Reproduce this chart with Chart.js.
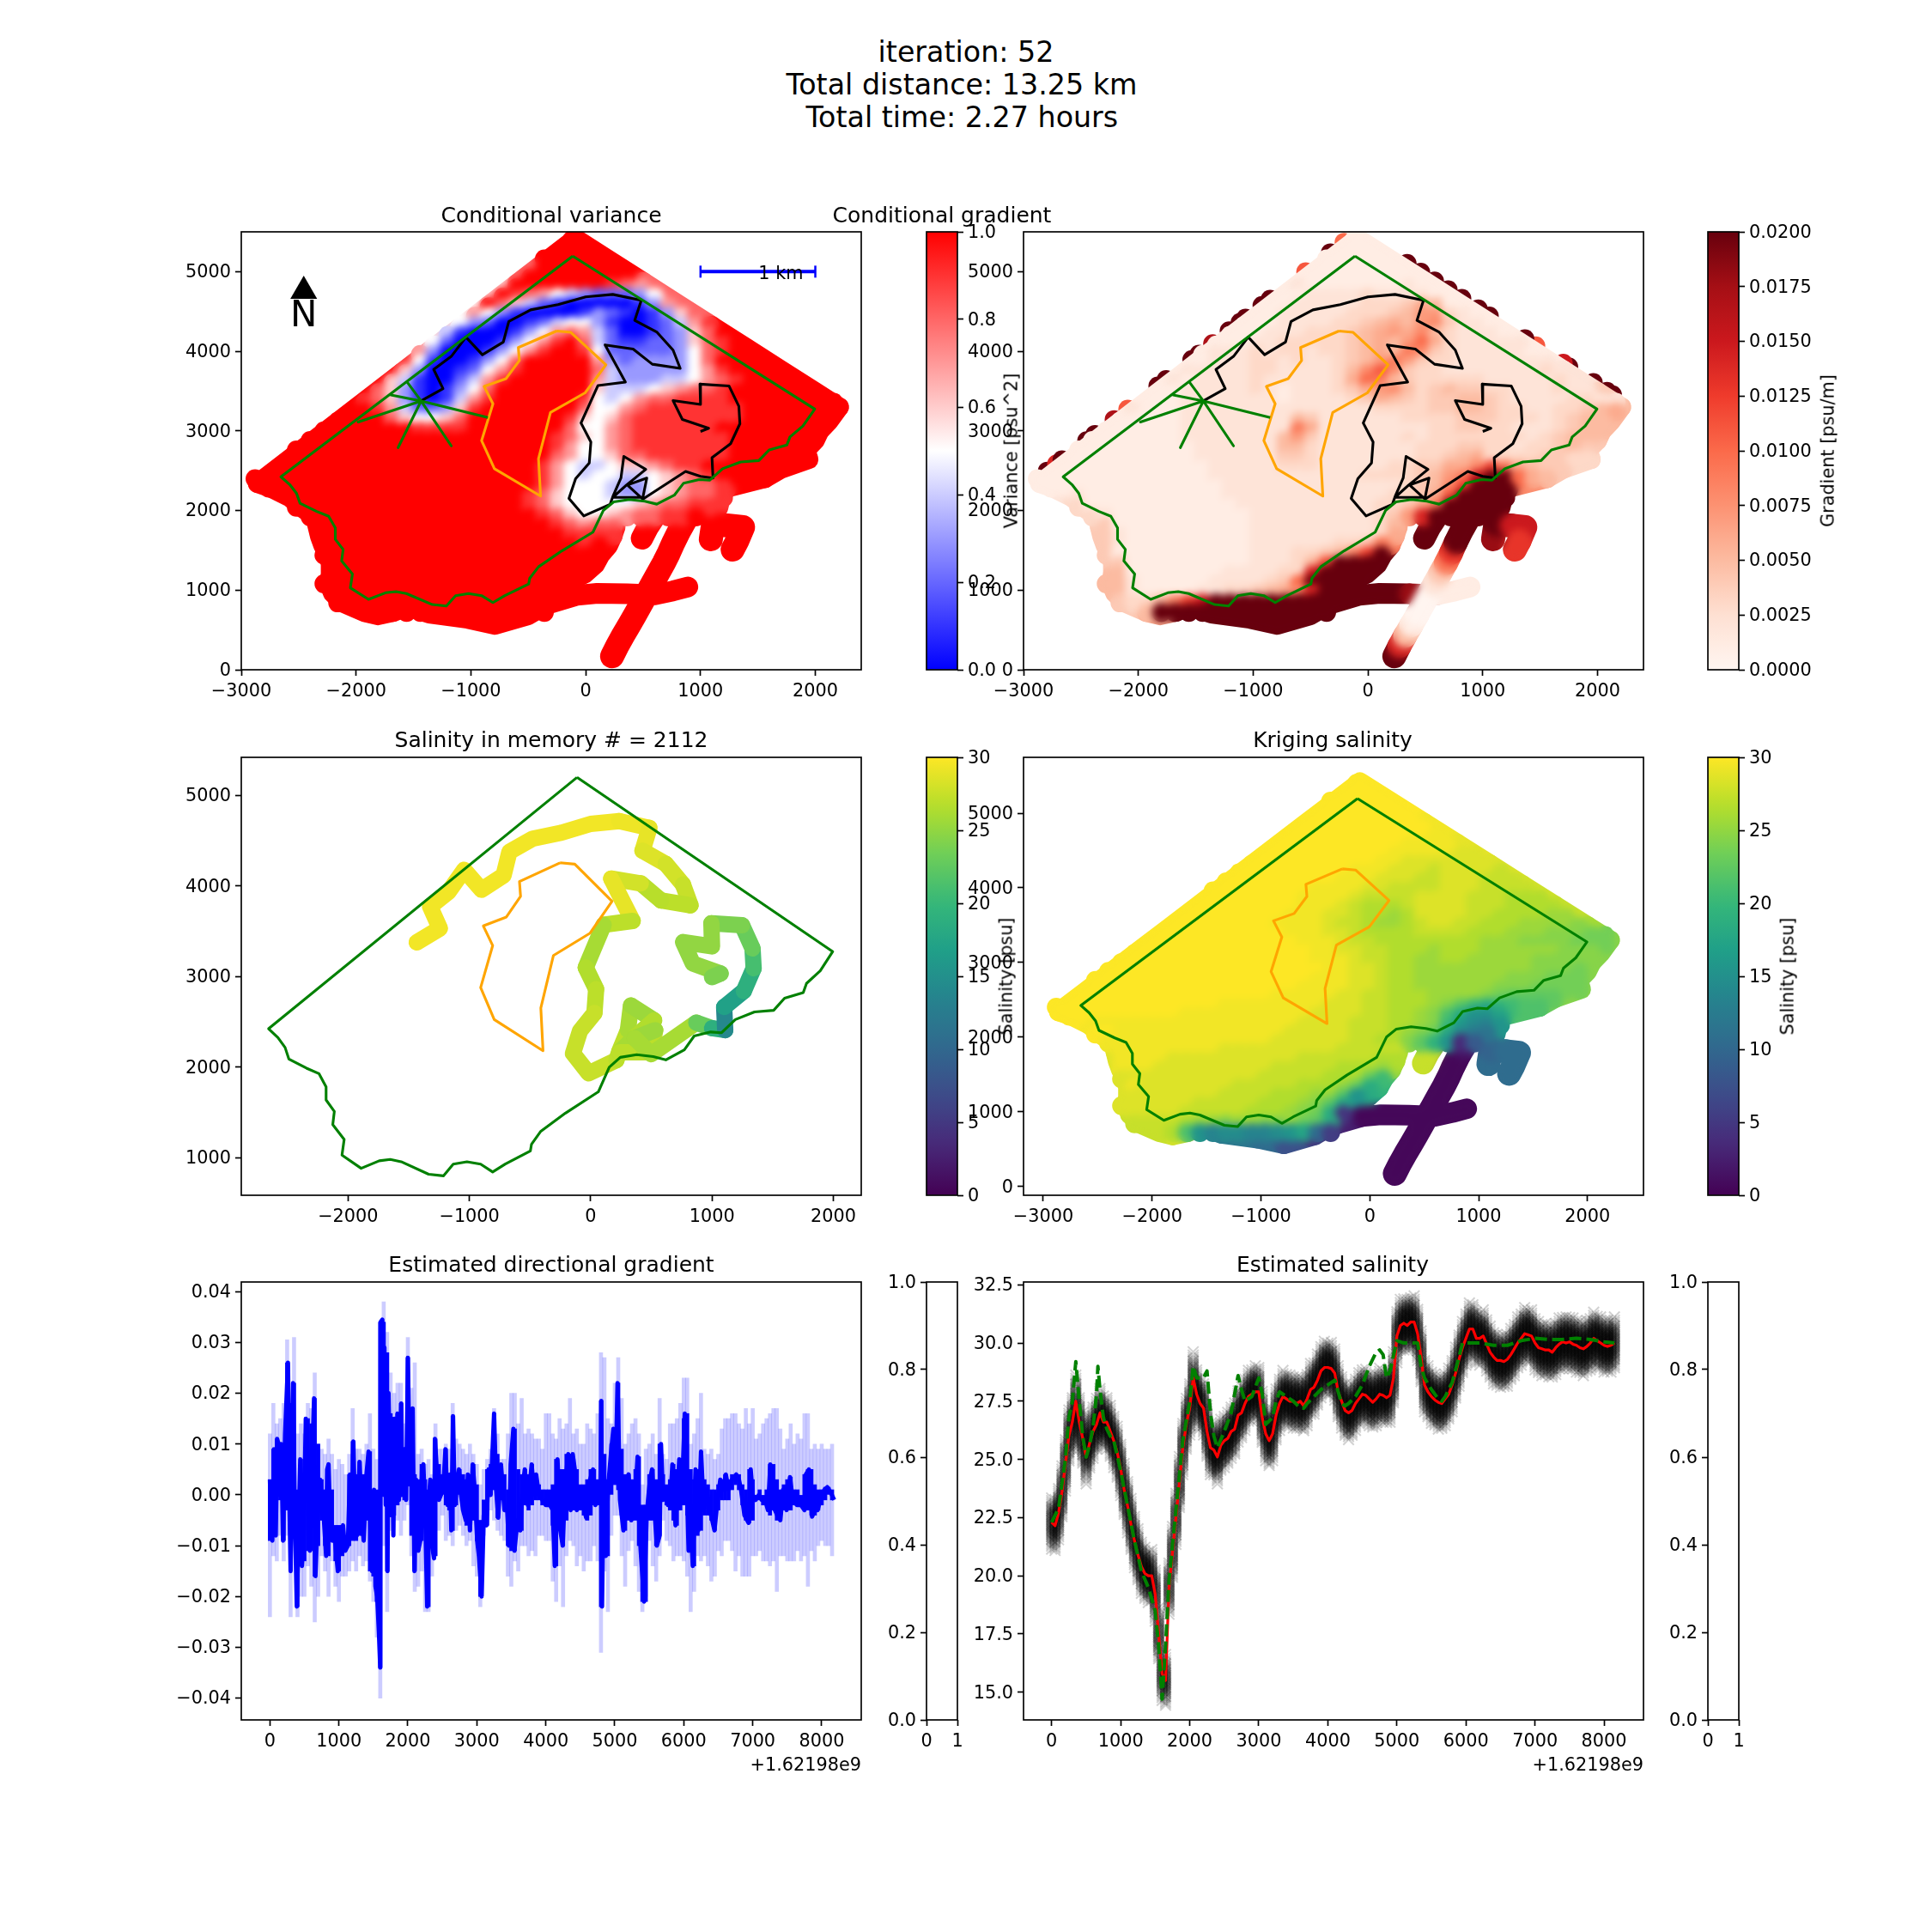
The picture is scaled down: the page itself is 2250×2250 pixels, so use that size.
<!DOCTYPE html>
<html><head><meta charset="utf-8">
<style>
html,body{margin:0;padding:0;background:#fff;width:2250px;height:2250px;overflow:hidden}
canvas{position:absolute}
.t{position:absolute;font-family:'DejaVu Sans';color:#000;white-space:pre;line-height:1}
.rot{transform:translate(-50%,-50%) rotate(-90deg);font-size:20.8px}
.sup{font-size:33.3px;transform:translateX(-50%)}
.ttl{font-size:25px;transform:translate(-50%,-50%)}
</style>
<script src="https://cdn.jsdelivr.net/npm/chart.js@4/dist/chart.umd.js"></script>
</head><body>
<div class="t sup" style="top:44px;left:1125px">iteration: 52</div>
<div class="t sup" style="top:82px;left:1120px">Total distance: 13.25 km</div>
<div class="t sup" style="top:120px;left:1115px"> Total time: 2.27 hours</div>
<script>
// ---------- map: boundary, no-go area, path (metres east / north)
const greenX=[-113,1995,1892,1779,1752,1598,1508,1350,1192,1079,989,853,772,619,515,379,244,153,63,-208,-411,-488,-497,-704,-808,-907,-1020,-1133,-1214,-1336,-1562,-1652,-1743,-1892,-2050,-2032,-2126,-2113,-2181,-2181,-2239,-2343,-2488,-2519,-2578,-2655,-113];
const greenY=[5196,3275,3062,2924,2822,2761,2627,2609,2525,2380,2388,2344,2192,2080,2116,2138,2108,2000,1728,1493,1293,1149,1076,931,844,931,957,931,801,819,957,982,967,884,1029,1203,1366,1511,1638,1783,1928,1989,2090,2217,2326,2424,5196];
const orangeX=[-253,-131,176,-5,-307,-411,-393,-795,-907,-808,-885,-695,-578,-587,-253];
const orangeY=[4254,4239,3830,3478,3232,2652,2181,2525,2877,3341,3558,3656,3884,4047,4254];
const pathX=[-1434,-1243,-1324,-1171,-1043,-900,-718,-670,-479,-241,0,236,484,427,618,761,823,580,413,169,346,107,-41,45,31,-88,-146,-17,212,236,307,332,523,355,236,498,532,363,498,870,1000,1109,1100,1262,1343,1334,1248,995,1000,761,842,1071,1000];
const pathY=[3376,3530,3772,3935,4177,3957,4115,4375,4520,4586,4683,4714,4639,4388,4243,4014,3785,3838,4027,4080,3613,3570,3099,2861,2597,2399,2152,1932,2077,2174,2408,2680,2517,2320,2165,2165,2408,2320,2143,2491,2430,2408,2663,2839,3090,3310,3565,3587,3332,3380,3143,3033,2993];
const pathSalinity=[29.5,29.5,29.5,29.5,29.5,29.5,29.5,29.5,29.5,29.5,29.5,29.3,29,28.5,28,27.5,27,26.8,28,29,27,26,26.5,27,27.5,27.5,27.5,27.5,27,27,26,25.5,26.5,26,27,27,25.5,26,26,23,19,14,17,19,21,23,24,25,25,25,25,24,24];
const starX=[-1434,-1553,-1434,-1696,-1434,-1982,-1434,-1634,-1434,-1171,-1434,-852];
const starY=[3376,3609,3376,3451,3376,3112,3376,2790,3376,2812,3376,3169];
const scaleBarX=[1000,2000], scaleBarY=[5000,5000];
const arrowX=[-2456], arrowY=[4757];
const mapLabels=[['N',-2456,4430,42],['1 km',1700,4970,20.8]];

// ---------- fields on a 120 m grid, one string per row (north to south), '.' = no sample
// variance: tenths (a = 1.0)
const varianceRows=[
"..... ..... ..... ..... ...a.",
"..... ..... ..... ..... ...aa",
"..... ..... ..... ..... .aaaa a....",
"..... ..... ..... ..... .aaaa aa...",
"..... ..... ..... ..... aaaaa aaa..",
"..... ..... ..... ....a aaaaa a987.",
"..... ..... ..... ...a9 87543 22235",
"..... ..... ..... ..a86 42100 00013 7....",
"..... ..... ..... .7531 00001 32101 368..",
"..... ..... ..... 53200 12455 31001 2479.",
"..... ..... ....4 10001 35787 42001 2368a",
"..... ..... ...52 00013 579a8 42112 23689 a....",
"..... ..... ..730 00135 79aa9 52222 23589 aa...",
"..... ..... ..510 01358 aaaaa 73233 3358a aaa..",
"..... ..... .6300 12579 aaaaa 84333 33579 aaaa.",
"..... ..... 64100 2479a aaaaa 74333 44578 9aaaa",
"..... ....8 63101 358aa aaaaa 64445 67889 aaaaa a....",
"..... ...98 63101 479aa aaaa9 54578 89999 aaaaa aaa..",
"..... ..aa9 74223 69aaa aaaa8 55789 99999 9aaaa aaa..",
"..... .aaaa 86556 8aaaa aaa96 56899 99999 9aaaa aa...",
"..... aaaaa aa999 9aaaa aaa85 57899 9999a aaaaa aa...",
"....a aaaaa aaaaa aaaaa aa986 57899 99999 aaaaa a....",
"...aa aaaaa aaaaa aaaaa aa975 57899 99999 aaaaa a....",
"...aa aaaaa aaaaa aaaaa aa875 56889 99999 aaaaa a....",
"..aaa aaaaa aaaaa aaaaa a9754 45667 899aa aaaa.",
"aaaaa aaaaa aaaaa aaaaa a9754 55445 6789a aaa..",
".aaaa aaaaa aaaaa aaaaa a9755 54335 67889",
"...aa aaaaa aaaaa aaaaa 98655 54335 67889",
"...aa aaaaa aaaaa aaaaa 98655 55567 8899.",
"....a aaaaa aaaaa aaaaa a9865 56788 99a..",
"..... aaaaa aaaaa aaaaa aa987 88",
"..... aaaaa aaaaa aaaaa aaa99 99",
"..... aaaaa aaaaa aaaaa aaaa9 a",
"..... aaaaa aaaaa aaaaa aaaaa a",
"..... .aaaa aaaaa aaaaa aaaaa",
"..... .aaaa aaaaa aaaaa aaaa",
"..... aaaaa aaaaa aaaaa aaa",
"..... .aaaa aaaaa aaaaa aaa",
"..... .aaaa aaaaa aaaaa aa",
"..... ...aa aaaaa aaaaa aa"];
// gradient: thousandths of psu/m (k = 0.020)
const gradientRows=[
"..... ..... ..... ..... ...1.",
"..... ..... ..... ..... ...11",
"..... ..... ..... ..... .1111 1....",
"..... ..... ..... ..... .1111 11...",
"..... ..... ..... ..... 11111 111..",
"..... ..... ..... ....2 11111 1121.",
"..... ..... ..... ...11 22223 22221",
"..... ..... ..... ..112 22223 33465 1....",
"..... ..... ..... .1122 22233 34577 321..",
"..... ..... ..... 11122 22334 56578 4221.",
"..... ..... ....1 11222 33345 67685 32221",
"..... ..... ...11 12233 33345 657a6 32222 2....",
"..... ..... ..122 23233 23345 65984 32222 21...",
"..... ..... ..122 23323 22345 79743 32222 222..",
"..... ..... .2222 23322 22358 b8433 22222 2232.",
"..... ..... 21222 23222 2236a 95433 33322 22232",
"..... ....1 12222 23212 22346 78534 54433 22232 2....",
"..... ...11 12222 22212 22234 65434 45543 22223 322..",
"..... ..211 12222 22222 22222 33334 45543 32233 456..",
"..... .1111 12222 22225 42222 22333 34443 33234 55...",
"..... 11111 12222 22229 62222 22223 34433 22234 55...",
"....1 11111 12222 22257 42222 22323 33333 32345 5....",
"...11 11111 11222 22255 32222 22233 34433 23345 4....",
"...11 11111 11222 22244 32222 22233 45633 33443 3....",
"..111 11111 11122 22233 32222 23344 668c9 6544.",
"11111 11111 11122 22222 22223 33345 79fkk a65..",
".1111 11111 11112 22222 22222 22345 8ckkk",
"...21 11111 11112 22222 22222 23346 bkkkk",
"...31 11111 11111 22222 22222 33469 kkkk.",
"....3 21111 11111 12222 22222 347ek kkk..",
"..... 41111 11111 12222 22222 35",
"..... 42111 11111 12222 22222 36",
"..... 42111 11111 12222 22334 9",
"..... 41111 11111 12223 3458c k",
"..... .4111 11111 12223 5bkkk",
"..... .5111 11112 22233 ekkk",
"..... 55211 11122 2234a kkk",
"..... .5211 11223 34568 ekk",
"..... .4335 8cfkk kkkkk kk",
"..... ...5k kkkkk kkkkk kk"];
// kriged salinity: psu in base 36 (u = 30)
const krigingRows=[
"..... ..... ..... ..... ...u.",
"..... ..... ..... ..... ...uu",
"..... ..... ..... ..... .uuuu u....",
"..... ..... ..... ..... .uuuu uu...",
"..... ..... ..... ..... uuuuu uuu..",
"..... ..... ..... ....u uuuuu uuuu.",
"..... ..... ..... ...uu uuuuu uuuut",
"..... ..... ..... ..uuu uuuuu uuttt t....",
"..... ..... ..... .uuuu uuuuu utttt tss..",
"..... ..... ..... uuuuu uuuuu ttsss ssss.",
"..... ..... ....u uuuuu uuutt tsssr ssssr",
"..... ..... ...uu uuuuu uuttt sssrr sssrr r....",
"..... ..... ..uuu uuuuu tttts srrrr sssrr rr...",
"..... ..... ..uuu uuuut tttsr rrrss ssrrr qqq..",
"..... ..... .uuuu uuuut ttsrq qqrss ssrrr qqqq.",
"..... ..... uuuuu uuutt tssrq qpqss ssrrq qqqpp",
"..... ....u uuuuu uuttt tsrrq ppqrs srrqq qpppp o....",
"..... ...uu uuuuu uuutt tssrq qqqrr rrqqq pppoo onn..",
"..... ..uuu uuuuu uuuut ttsrr qqqqq qqqpp poooo nnn..",
"..... .uuuu uuuuu uuuuu ttssr rqqqp qqqpp ppppo oo...",
"..... uuuuu uuuuu uuuuu tttsr rqqpp qqppp ppooo oo...",
"....u uuuuu uuuuu uuuuu uttss rqqpp ppppp ppooo n....",
"...uu uuuuu uuuuu uuuuu tttss rqqpp ppppp ooonn n....",
"...uu uuuuu uuuuu uuuut tttss rqqpp ppppo oonnn n....",
"..uuu uuuuu uuuuu uuttt ttssr rqqqp pppon mmmm.",
"uuuuu uuuuu uuutt ttttt tsssr rqqqp omkij kll..",
".uuuu uuuuu ttttt ttttt ssssr rqqpo liffh",
"...tt ttttt ttttt tttts sssrr rqqpo kgedf",
"...uu ttttt ttttt tttss sssrr rqpon iecb.",
"....t ttttt ttttt ttsss sssrr qqomj f38..",
"..... ttttt tttss sssss ssrrr rr",
"..... tttts sssss ssssr rrrrr qq",
"..... tttss sssss ssrrr rrqqq p",
"..... sssss sssss srrrr rqqqn k",
"..... .tsss ssssr rrrrq qqpni",
"..... .ssss sssrr rrqqq ppmf",
"..... sssss srrrr rqqqp omh",
"..... .ssss rrrrr qqqpo ni4",
"..... .rrrr qppop poopn mi",
"..... ...rq lfdee ddefh a5"];
// outer limits of the sampled area, with values along them (same units as the rows)
const edgeX=[-2860,-2600,-2350,-2100,-1850,-1600,-1350,-1100,-850,-600,-350,-90,200,500,800,1100,1400,1700,2000,2210];
const edgeY=[2340,2629,2907,3185,3463,3741,4019,4297,4575,4853,5131,5420,5153,4876,4599,4323,4046,3770,3493,3300];
const edgeVariance=[10,10,10,10,10,9,6,5,6,8,10,10,10,8,8,10,10,10,10,10];
const edgeGradient=[1,1,1,1,1,1,1,1,1,1,1,1,1,1,1,1,1,2,4,5];
const edgeKriging=[30,30,30,30,30,30,30,30,30,30,30,30,30,29,28.5,28,27.5,27,25.5,24];
const lowX=[-2860,-2740,-2575,-2480,-2360,-2340,-2320,-2290,-2240,-2225,-2225,-2240,-2205,-2120,-1930,-1810,-1672,-1551,-1363,-1028,-790,-504,-265];
const lowY=[2340,2280,2160,2040,1920,1800,1680,1560,1440,1320,1200,1080,960,840,720,678,722,788,700,634,559,678,876];
const lowVariance=[10,10,10,10,10,10,10,10,10,10,10,10,10,10,10,10,10,10,10,10,10,10,10];
const lowGradient=[1,2,3,3,3,4,4,4,4,4,5,5,5,4,6,6,20,20,20,20,20,20,20];
const lowKriging=[30,30,29,29,29,28,28,28,28,28,28,28,27,27,27,28,27,12,11,10,7,4,3];
const bankX=[-265,-180,-10,85,130,200,237,266], bankY=[876,1080,1200,1320,1440,1560,1680,1800];
const bankVariance=[10,10,10,10,10,10,10,10], bankGradient=[20,20,20,20,20,9,6,5], bankKriging=[3,14,17,19,20,25,26,27];
const eastX=[2210,2120,2040,2000,1920,1945,1705,1560,1230,1180,1160], eastY=[3300,3120,3000,2880,2760,2640,2520,2400,2280,2160,2040];
const eastVariance=[10,10,10,10,10,10,10,10,9,9,9], eastGradient=[5,5,5,4,4,3,4,8,20,20,20], eastKriging=[24,24,24,24,24,24,23,21,19,16,13];
// dark rim samples along the straight edges in the gradient map (thousandths)
const rimX=[-208,-327,-542,-852,-923,-1066,-1114,-1209,-1353,-1472,-1534,-1758,-1830,-2092,-2211,-2378,-2450,-2665,-2712,-2793,341,460,580,699,818,961,1057,1367,1462,1701,1749,1963,2082,2130];
const rimY=[5369,5237,4998,4653,4574,4415,4362,4256,4096,3963,3895,3645,3565,3274,3142,2956,2876,2637,2585,2495,5103,4993,4882,4773,4663,4531,4442,4157,4069,3849,3804,3607,3497,3453];
const rimGradient=[10,20,11,20,20,20,20,20,17,20,20,20,20,11,17,20,20,20,14,20,20,20,20,20,20,20,20,20,11,15,20,20,20,20];
// transects leaving the box to the south
const armAX=[230,275,325,378,430,480,530,580,630,680,725,765,810,860,915,1000];
const armAY=[170,300,430,560,690,820,950,1080,1210,1340,1470,1600,1730,1860,2000,2150];
const armAVariance=[10,10,10,10,10,10,10,10,10,10,10,10,10,10,10,10];
const armAGradient=[20,14,5,1,0,0,0,2,4,9,13,20,20,20,20,20];
const armAKriging=[0,0,0,0,0,0,0,0,0,0,0,0,0,1,3,6];
const armDX=[-550,-300,-75,100,360,600,760,890], armDY=[680,840,935,960,955,940,990,1040];
const armDVariance=[10,10,10,10,10,10,10,10], armDGradient=[20,20,20,20,18,1,1,20], armDKriging=[3,2,0,0,0,0,0,1];
const armCX=[590,540,490], armCY=[1900,1790,1650];
const armCVariance=[10,10,10], armCGradient=[20,20,20], armCKriging=[27,27,26];
const armBX=[1090,1110,1250,1370,1320,1280], armBY=[1640,1830,1810,1790,1620,1510];
const armBVariance=[10,10,10,10,10,10], armBGradient=[18,20,15,15,13,10], armBKriging=[10,9,10,10,10,10];

// ---------- estimated directional gradient (1e-3 psu/m)
const gradTime=[0,15,35,60,85,105,125,140,165,190,220,262,285,300,320,336,360,390,410,440,465,490,520,540,580,610,640,660,690,730,770,815,830,850,880,905,930,985,1010,1060,1090,1130,1160,1180,1210,1235,1260,1300,1330,1360,1400,1430,1460,1480,1510,1530,1555,1580,1600,1605,1630,1650,1660,1680,1690,1705,1720,1750,1770,1790,1810,1835,1850,1870,1905,1917,1950,1975,2000,2030,2070,2095,2120,2150,2180,2205,2225,2255,2280,2300,2325,2350,2380,2392,2420,2450,2480,2520,2545,2575,2610,2630,2655,2680,2710,2740,2770,2800,2840,2870,2900,2940,2970,3005,3030,3070,3100,3140,3170,3200,3250,3280,3310,3350,3400,3440,3465,3490,3530,3545,3590,3630,3660,3695,3740,3795,3830,3860,3900,3950,4000,4060,4100,4130,4150,4170,4210,4245,4280,4325,4360,4390,4420,4450,4500,4540,4585,4620,4685,4720,4760,4790,4805,4815,4840,4870,4900,4950,4980,5010,5040,5075,5125,5160,5200,5240,5290,5330,5345,5375,5425,5460,5475,5510,5540,5580,5610,5650,5670,5700,5730,5770,5800,5835,5880,5935,5970,6015,6040,6070,6100,6130,6170,6210,6250,6290,6330,6380,6445,6490,6530,6570,6610,6650,6700,6760,6800,6830,6880,6940,6970,7000,7040,7090,7130,7180,7220,7255,7290,7355,7400,7440,7490,7540,7580,7640,7700,7750,7770,7815,7860,7900,7940,8000,8040,8080,8130,8180];
const gradMean=[3,-4,-9,9,-8,11,10,0,10,-9,12,26,-3,-15,5,22,-3,-22,-10,7,-14,-8,15,13,-11,5,19,-16,-5,3,-2,-12,5,6,-8,-9,-7,-15,-10,-6,-11,-10,4,-8,10.5,-5,-8,6.5,-4,-9,4,8.5,-8,-15,1,-18,-20,-27,-34,34,34.5,0,29,-2,24,-15,20,-4,15,-8,15,1,16,-1,18,0,9,-1,27,2,17,-15,3,-11,-9,5,6,-6,-22,-2,3,-10,-12.5,11,5,-1,0,3,9,-2,4,-7,15.5,-2,2,5,0,-3,-5,4,-7,6,1,-9,-12,-20,-4,-6,5,0,16,1,-4.5,6,-3,-3,-10,6,13,-11,-5,-7,1,5,-2,6,0,4,0,-1,-2,-2,-3,-14,-2,7,-7,-10,2,8,-3,8,5,-3,1,-2,-4.5,2,5,-2,2,-1,18.5,-22,5,-12,1,9,13,3,22,-1,-7,3,4,-5,-2,7.5,-3,-11,-21,-5,-2,3,5,-4,-10,-8,10,-1,1,-2,-2,6,-6,7,-1,16,4,-11,-5,-14,5,-7,8.5,-3,1,-3,-7,-1,3,1,4,1,3,4,3,1,-4,-5.5,5,0,-1,0,-1,-1,-3,6,-2,-4,-5,1,-3,3.5,-1,-2,-2,-3,4,5,-4.3,-3,-3,0,1,1.5,0.5,-1];
const bandTime=[0,50,100,150,200,250,300,350,400,450,500,550,600,650,700,750,800,850,900,950,1000,1050,1100,1150,1200,1250,1300,1350,1400,1450,1500,1550,1600,1650,1700,1750,1800,1850,1900,1950,2000,2050,2100,2150,2200,2250,2300,2350,2400,2450,2500,2550,2600,2650,2700,2750,2800,2850,2900,2950,3000,3050,3100,3150,3200,3250,3300,3350,3400,3450,3500,3550,3600,3650,3700,3750,3800,3850,3900,3950,4000,4050,4100,4150,4200,4250,4300,4350,4400,4450,4500,4550,4600,4650,4700,4750,4800,4850,4900,4950,5000,5050,5100,5150,5200,5250,5300,5350,5400,5450,5500,5550,5600,5650,5700,5750,5800,5850,5900,5950,6000,6050,6100,6150,6200,6250,6300,6350,6400,6450,6500,6550,6600,6650,6700,6750,6800,6850,6900,6950,7000,7050,7100,7150,7200,7250,7300,7350,7400,7450,7500,7550,7600,7650,7700,7750,7800,7850,7900,7950,8000,8050,8100,8150];
const bandHigh=[12,18,14,15,18,30.5,15,31,12,14,12,18,17,24,10,9,8,11,8,5,7,6,4,8,17,9,9,8,10,16,9,7,0,38,32,24,20,22,22,14,31,21,26,8,9,6,7,4,14,9,9,10,9,18,11,10,9,8,10,8,6,2,5,7,9,17,12,7,7,12,20,20,14,19,12,13,12,11,11,9,16,16,12,11,15,13,14,19,12,13,10,10,14,13,12,16,28,27,15,14,22,27,19,10,12,14,15,12,2,9,10,12,8,19,8,7,14,14,15,18,23,23,10,12,15,20,9,8,9,7,8,13,15,15,16,16,14,13,17,14,17,11,12,14,15,16,17,17,13,9,11,14,10,12,11,16,16,9,10,9,10,9,9,10];
const bandLow=[-24,-12,-13,-8,-13,-8,-24,-6,-24,-20,-20,-14,-18,-25,-20,-12,-15,-20,-13,-18,-21,-16,-16,-15,-13,-15,-12,-14,-13,-17,-21,-28,-40,-10,-23,-7,-3,-5,-8,-5,-2,-12,-19,-18,-15,-23,-23,-16,-12,-7,-4,-9,-8,-10,-7,-6,-8,-10,-9,-14,-16,-22,-8,-4,-3,-5,-7,-8,-9,-16,-18,-13,-15,-10,-10,-12,-11,-12,-8,-8,-9,-9,-17,-21,-14,-22,-12,-9,-10,-14,-12,-15,-13,-13,-10,-13,-31,-15,-23,-8,-4,-4,-12,-18,-11,-9,-14,-19,-23,-20,-9,-14,-17,-12,-5,-9,-10,-13,-12,-12,-13,-16,-23,-19,-12,-13,-12,-14,-17,-16,-11,-12,-9,-9,-11,-15,-12,-16,-16,-16,-12,-12,-11,-13,-13,-14,-13,-19,-12,-12,-13,-13,-13,-11,-13,-12,-18,-11,-13,-10,-9,-10,-10,-12];
// range covered by the estimate itself within each 50 s
const coreHigh=[3,9,11,10,9,26,18,22,1,7,1,15,14,19,10,3,1,6,1,-6,-6,-6,-8,4,10.5,4,6.5,4,3,8.5,1,1,34,34,28,16,15,16,18,9,27,17,4,3,6,3,1,3,11,6,4,9,4,15.5,4,5,4,3,4,6,2,-5,-1,5,6,16,8,6,4,1,7,13,5,4,5,4,6,4,2,1,1,1,2,7,5,5,8,8,7,5,2,2,3,5,5,3,18.5,8,3,10,13,22,9,4,4,3,5,7.5,-2,-2,4,5,3,10,4,2,3,6,5,7,15,16,5,3,5,8.5,3,2,1,1,2,3,4,3,4,4,4,2,1,5,3,0,1,0,1,6,6,3,1,2,3,3.5,1,1,0,4,5,5,2,1,1,1.5,1.5,1];
const coreLow=[-9,-8,0,-1,-9,-3,-15,-3,-22,-14,-13,-11,-11,-16,-10,-5,-10,-12,-8,-13,-15,-12,-11,-10,-9,-9,-8,-8,-5,-15,-16,-21,-34,0,-15,-4,-4,-2,0,-1,2,-8,-15,-11,-9,-6,-22,-10,-12,-1,0,-2,-3,-7,-2,0,-3,-6,-7,-5,-9,-20,-6,-6,0,1,-4.5,-1,-3,-10,-11,-11,-7,-7,-2,-3,-2,-1,-1,-2,-2,-2,-6,-14,-7,-10,-5,-3,-3,-3,-3,-4,-5,-4,-2,-2,-22,-12,-12,0,2,1,-4,-7,-5,-5,-5,-10,-21,-21,-5,-5,-10,-8,-1,-2,-3,-5,-6,-3,-2,-4,-11,-14,-8,-7,-4,-4,-5,-7,-3,-1,-1,-1,1,2,1,-2,-5,-5.5,-5,-1,-1,-2,-2,-4,-3,-5,-4,-3,-3,-3,-2,-2,-2,-3,-3,-4,-4,-3,-2,-1,0,-1];

// ---------- estimated salinity (psu), sampled every 50 s
const salTime=bandTime;
const salEstimate=[22.3,22.15,22.7,23.6,24.8,26,26.6,27.5,26.6,25.9,25.1,25.7,26.2,26.5,27,26.6,26.6,26.2,25.8,25.3,24.6,23.7,23,22.2,21.5,20.9,20.4,20.1,20,20,19.2,17.5,15.8,15.5,19.5,21,22.5,24,25.5,26.5,27.2,28.5,27.8,27.4,27.2,26.2,25.5,25.4,25.1,25.6,25.8,25.9,26.2,26.3,26.9,27,27.4,27.7,27.8,27.9,27.9,26.8,26.1,25.8,26.1,26.9,27.4,27.7,27.6,27.5,27.5,27.4,27.5,27.3,27.6,28,28.1,28.4,28.8,28.95,28.95,28.9,28.7,27.9,27.5,27.1,27,27.1,27.4,27.6,27.8,27.75,27.6,27.45,27.6,27.8,27.75,27.65,27.75,28.5,30.3,30.75,30.85,30.75,30.9,30.9,30.4,29.4,28.2,27.9,27.7,27.55,27.45,27.4,27.6,27.8,28.2,28.7,29.3,29.8,30.2,30.6,30.6,30.2,30.2,30.3,29.95,29.6,29.4,29.25,29.25,29.2,29.3,29.5,29.75,30,30.2,30.4,30.35,30.3,30,29.8,29.75,29.7,29.7,29.6,29.8,29.95,30.05,30,30.05,29.95,29.9,29.8,29.75,29.85,30,30.2,30.1,30,29.9,29.85,29.9,30];
const salTrueTime=[0,100,200,250,300,350,400,450,500,550,600,650,670,700,750,800,850,900,1000,1100,1200,1300,1400,1500,1550,1600,1650,1700,1800,1900,2000,2050,2100,2200,2250,2300,2350,2400,2500,2600,2650,2700,2750,2800,2900,3000,3050,3100,3200,3250,3300,3400,3500,3600,3650,3700,3800,3900,4000,4100,4150,4200,4250,4300,4400,4500,4600,4700,4750,4800,4850,4900,5000,5100,5200,5300,5350,5400,5500,5600,5650,5700,5800,5900,5950,6000,6200,6400,6600,6800,7000,7200,7400,7600,7800,8000,8150];
const salTrue=[22.3,22.9,25,26.8,27.5,29.2,27.5,26,25.1,25.6,26.4,27.8,29,28,26.8,26.3,26,25.8,24.5,23,21.5,20.2,19.5,18.5,17,14.7,17,19.8,22.8,25.8,27.5,29,28.5,28.5,28.8,27,26,25.5,26.2,27,27.8,28.6,28,27.5,27.7,28.5,27.8,26.5,26.8,27.5,27.9,27.7,27.5,27.2,27.2,27.4,27.7,28,28.2,28.4,27.9,27.4,27.3,27.4,27.7,28.2,29,29.6,29.7,29.5,28.5,28.8,30.1,30,30,30,29,28.5,28,27.6,27.5,27.7,28.3,29.4,30,30,30,29.9,29.9,30.1,30.2,30.15,30.15,30.2,30.15,30.05,30];
// ensemble members around the estimate, as read from the width of the cloud
const memberCoreA=[-0.72,-0.63,-0.55,-0.49,-0.42,-0.37,-0.3,-0.26,-0.19,-0.14,-0.08,-0.03,0.04,0.09,0.16,0.21,0.27,0.33,0.39,0.46,0.52,0.59,0.67];
const memberCoreB=[-0.68,-0.58,-0.51,-0.45,-0.39,-0.33,-0.28,-0.22,-0.16,-0.11,-0.05,0.01,0.06,0.13,0.18,0.24,0.3,0.36,0.43,0.49,0.55,0.63,0.72];
const memberFringeA=[-1.15,-1.02,-0.94,-0.86,-0.78,0.76,0.84,0.93,1.04];
const memberFringeB=[-1.06,-0.97,-0.9,-0.81,-0.74,0.79,0.88,0.98,1.12];

// ---------- tick labels
const ticksTopX=[-3000,-2000,-1000,0,1000,2000], ticksTopY=[0,1000,2000,3000,4000,5000];
const ticksMemX=[-2000,-1000,0,1000,2000], ticksMemY=[1000,2000,3000,4000,5000];
const ticksTime=[0,1000,2000,3000,4000,5000,6000,7000,8000];
const ticksGrad=[-40,-30,-20,-10,0,10,20,30,40];
const ticksSal=[15,17.5,20,22.5,25,27.5,30,32.5];
const ticksVar=[0,0.2,0.4,0.6,0.8,1], ticksGradCb=[0,0.0025,0.005,0.0075,0.01,0.0125,0.015,0.0175,0.02], ticksSalCb=[0,5,10,15,20,25,30], ticksUnit=[0,0.2,0.4,0.6,0.8,1], ticksUnitX=[0,1];

// ---------- colour maps
const mapBwr=['#0000ff','#ffffff','#ff0000'];
const mapReds=['#fff5f0','#fee0d2','#fcbba1','#fc9272','#fb6a4a','#ef3b2c','#cb181d','#a50f15','#67000d'];
const mapViridis=['#440154','#482878','#3e4989','#31688e','#26828e','#1f9e89','#35b779','#6ece58','#b5de2b','#fde725'];
function hex(h){return [1,3,5].map(i=>parseInt(h.substr(i,2),16));}
function colour(map,t){t=Math.max(0,Math.min(1,t));const p=t*(map.length-1),i=Math.min(Math.floor(p),map.length-2),f=p-i,a=hex(map[i]),b=hex(map[i+1]);
  return 'rgb('+a.map((v,k)=>Math.round(v+(b[k]-v)*f)).join(',')+')';}

// ---------- field decoding
const GX0=-2880,GDX=120,GY0=5400,GDY=120;
function field(rows,toVal,map){const pts=[],cols=[];rows.forEach((row,r)=>{row.replace(/ /g,'').split('').forEach((ch,c)=>{if(ch==='.')return;
  pts.push({x:GX0+GDX*c,y:GY0-GDY*r});cols.push(colour(map,toVal(parseInt(ch,36))));});});return {pts,cols};}
const xy=(X,Y)=>X.map((x,i)=>({x,y:Y[i]}));

// ---------- layout helpers
const FONT='DejaVu Sans',FS=20.8,BLACK='#000',YW=100;
const minus=s=>String(s).replace('-','\u2212');
const fmt0=v=>minus(v), fmtN=n=>v=>minus(Number(v).toFixed(n));
function axis(min,max,list,fmt,pos,size,extra){const horiz=pos==='bottom';const o={type:'linear',position:pos,min,max,bounds:'ticks',offset:false,
  grid:{display:true,offset:false,drawOnChartArea:false,drawTicks:true,tickLength:7,tickWidth:1.7,tickColor:BLACK},border:{display:false},
  ticks:{autoSkip:false,maxRotation:0,minRotation:0,padding:horiz?6:5,labelOffset:horiz?0:1.5,color:BLACK,font:{family:FONT,size:FS},callback:fmt},
  afterBuildTicks:s=>{s.ticks=list.map(value=>({value}));},
  afterFit:s=>{if(horiz)s.height=size;else s.width=size;}};
  return Object.assign(o,extra||{});}
const framePlugin={id:'frame',afterDraw(c){const a=c.chartArea,x=c.ctx;x.save();x.strokeStyle=BLACK;x.lineWidth=1.67;x.strokeRect(a.left,a.top,a.right-a.left,a.bottom-a.top);x.restore();}};
const labelPlugin={id:'maplabels',afterDatasetsDraw(c,args,opts){if(!opts.items)return;const x=c.ctx;x.save();x.fillStyle=BLACK;x.textAlign='center';x.textBaseline='middle';
  opts.items.forEach(([t,dx,dy,s])=>{x.font=s+'px "'+FONT+'"';x.fillText(t,c.scales.x.getPixelForValue(dx),c.scales.y.getPixelForValue(dy));});x.restore();}};
// soft rendering of the gridded samples, and samples painted beneath what is already drawn
const layerPlugin={id:'layers',
  beforeDatasetDraw(c,args){const d=c.data.datasets[args.index];if(d.under)c.ctx.globalCompositeOperation='destination-over';},
  afterDatasetDraw(c,args){const d=c.data.datasets[args.index],x=c.ctx,a=c.chartArea;
    if(d.under)x.globalCompositeOperation='source-over';
    if(d.smooth){x.save();x.beginPath();x.rect(a.left,a.top,a.right-a.left,a.bottom-a.top);x.clip();x.globalCompositeOperation='source-atop';x.filter='blur('+d.smooth+'px)';x.drawImage(c.canvas,0,0);x.restore();}}};
function chart(box,cfg){const mh=box.mh||110,mt=60,mb=90,xh=cfg.xh||0;
  const cv=document.createElement('canvas');cv.width=Math.round(box.r-box.l+2*mh);cv.height=Math.round(box.b-box.t+mt+mb);
  cv.style.left=(box.l-mh)+'px';cv.style.top=(box.t-mt)+'px';document.body.appendChild(cv);
  const right=cfg.yRight;
  return new Chart(cv,{type:cfg.type||'scatter',data:cfg.data,plugins:[framePlugin,labelPlugin,layerPlugin],options:{responsive:false,animation:false,devicePixelRatio:1,events:[],
    layout:{padding:{left:right?mh:mh-YW,right:right?mh-YW:mh,top:mt,bottom:mb-xh}},
    scales:cfg.scales,
    plugins:{legend:{display:false},tooltip:{enabled:false},maplabels:{items:cfg.labels},title:{display:false}}}});}
const line=(d,color,w,extra)=>Object.assign({type:'line',data:d,borderColor:color,borderWidth:w,pointRadius:0,tension:0,fill:false,clip:0,borderJoinStyle:'round'},extra||{});
const discs=f=>({type:'scatter',data:f.pts,pointRadius:11,pointBorderWidth:0,pointBackgroundColor:f.cols,pointBorderColor:f.cols,showLine:false,clip:0,smooth:4.5});
const strip=(X,Y,vals,map,w)=>line(xy(X,Y),colour(map,vals[0]),w,{borderCapStyle:'round',segment:{borderColor:c=>colour(map,vals[c.p0DataIndex])}});
function sampled(rows,toVal,map,v){const s=a=>a.map(toVal);return [discs(field(rows,toVal,map)),
  strip(armAX,armAY,s(v.a),map,28),strip(armDX,armDY,s(v.d),map,24),strip(armCX,armCY,s(v.c),map,26),strip(armBX,armBY,s(v.b),map,28),
  strip(lowX,lowY,s(v.low),map,22),strip(bankX,bankY,s(v.bank),map,22),strip(eastX,eastY,s(v.east),map,22),strip(edgeX,edgeY,s(v.edge),map,22)];}
function colourbar(box,lo,hi,map,list,fmt){
  chart(Object.assign({mh:170},box),{type:'bar',yRight:true,
    data:{labels:['c'],datasets:[{data:[[lo,hi]],categoryPercentage:1,barPercentage:1,borderWidth:0,backgroundColor(ctx){const a=ctx.chart.chartArea;if(!a)return '#888';
      const g=ctx.chart.ctx.createLinearGradient(0,a.bottom,0,a.top);for(let i=0;i<=32;i++)g.addColorStop(i/32,colour(map,i/32));return g;}}]},
    scales:{x:{type:'category',display:false},y:axis(lo,hi,list,fmt,'right',YW)}});}
function emptyAxis(box){chart(Object.assign({mh:170},box),{xh:60,data:{datasets:[]},
    scales:{x:axis(0,1,ticksUnitX,fmt0,'bottom',60),y:axis(0,1,ticksUnit,fmtN(1),'left',YW)}});}

// ---------- geometry of the panels (px)
const colA={l:281,r:1003},cbA={l:1079,r:1115},colB={l:1191.5,r:1913},cbB={l:1989,r:2025};
const row1={t:270,b:780},row2={t:881.5,b:1391.5},row3={t:1492.5,b:2002.5};
const green=xy(greenX,greenY),orange=xy(orangeX,orangeY),path=xy(pathX,pathY),star=xy(starX,starY);

// Conditional variance
chart({...colA,...row1},{xh:60,labels:mapLabels,
  data:{datasets:[
    line(xy(scaleBarX,scaleBarY),'#0000ff',4,{pointRadius:7,pointStyle:'line',pointRotation:90,pointBorderColor:'#0000ff',pointBorderWidth:2.5}),
    {type:'scatter',data:xy(arrowX,arrowY),pointStyle:'triangle',pointRadius:18,pointBackgroundColor:BLACK,pointBorderColor:BLACK,pointBorderWidth:0,clip:0},
    line(green,'#008000',3.1),line(star,'#008000',3.1),line(orange,'#ffa500',3.1),line(path,BLACK,3.1),
    ...sampled(varianceRows,v=>v/10,mapBwr,{a:armAVariance,d:armDVariance,c:armCVariance,b:armBVariance,low:lowVariance,bank:bankVariance,east:eastVariance,edge:edgeVariance})]},
  scales:{x:axis(-3000,2400,ticksTopX,fmt0,'bottom',60),y:axis(0,5500,ticksTopY,fmt0,'left',YW)}});
colourbar({...cbA,...row1},0,1,mapBwr,ticksVar,fmtN(1));

// Gradient
chart({...colB,...row1},{xh:60,
  data:{datasets:[line(green,'#008000',3.1),line(star,'#008000',3.1),line(orange,'#ffa500',3.1),line(path,BLACK,3.1),
    {type:'scatter',data:xy(rimX,rimY),pointRadius:11,pointBorderWidth:0,pointBackgroundColor:rimGradient.map(v=>colour(mapReds,v/20)),showLine:false,clip:0,under:true},
    ...sampled(gradientRows,v=>v/20,mapReds,{a:armAGradient,d:armDGradient,c:armCGradient,b:armBGradient,low:lowGradient,bank:bankGradient,east:eastGradient,edge:edgeGradient})]},
  scales:{x:axis(-3000,2400,ticksTopX,fmt0,'bottom',60),y:axis(0,5500,ticksTopY,fmt0,'left',YW)}});
colourbar({...cbB,...row1},0,0.02,mapReds,ticksGradCb,fmtN(4));

// Salinity in memory
chart({...colA,...row2},{xh:60,
  data:{datasets:[line(green,'#008000',3.1),line(orange,'#ffa500',3.1),
    line(path,'#d0e11c',19,{borderCapStyle:'round',segment:{borderColor:c=>colour(mapViridis,pathSalinity[c.p0DataIndex]/30)}})]},
  scales:{x:axis(-2880,2230,ticksMemX,fmt0,'bottom',60),y:axis(587,5417,ticksMemY,fmt0,'left',YW)}});
colourbar({...cbA,...row2},0,30,mapViridis,ticksSalCb,fmt0);

// Kriging salinity (rows hold whole psu bins: drawn at bin centre)
chart({...colB,...row2},{xh:60,
  data:{datasets:[line(green,'#008000',3.1),line(orange,'#ffa500',3.1),
    ...sampled(krigingRows,v=>(v+0.5)/30,mapViridis,{a:armAKriging,d:armDKriging,c:armCKriging,b:armBKriging,low:lowKriging,bank:bankKriging,east:eastKriging,edge:edgeKriging})]},
  scales:{x:axis(-3181,2514,ticksTopX,fmt0,'bottom',60),y:axis(-119,5748,ticksTopY,fmt0,'left',YW)}});
colourbar({...cbB,...row2},0,30,mapViridis,ticksSalCb,fmt0);

// Estimated directional gradient
const offsetTitle={display:true,text:'+1.62198e9',align:'end',color:BLACK,font:{family:FONT,size:FS},padding:{top:0,bottom:0}};
chart({...colA,...row3},{xh:66,
  data:{datasets:[line(xy(gradTime,gradMean),'#0000ff',5),
    {type:'bar',data:bandTime.map((x,i)=>({x,y:[coreLow[i],coreHigh[i]]})),backgroundColor:'#0000ff',borderWidth:0,barThickness:4,grouped:false,clip:0},
    {type:'bar',data:bandTime.map((x,i)=>({x,y:[bandLow[i],bandHigh[i]]})),backgroundColor:'rgba(0,0,255,0.2)',borderWidth:0,barThickness:4,grouped:false,clip:0}]},
  scales:{x:axis(-415,8573,ticksTime,fmt0,'bottom',66,{title:offsetTitle}),y:axis(-44.3,41.9,ticksGrad,v=>minus((v/1000).toFixed(2)),'left',YW)}});
emptyAxis({...cbA,...row3});

// Estimated salinity
const cloud=(lists)=>salTime.flatMap((t,i)=>lists[i%lists.length].map(o=>({x:t,y:salEstimate[i]+o})));
const cross=(d,a)=>({type:'scatter',data:d,pointStyle:'crossRot',pointRadius:8.8,pointBorderWidth:2,pointBorderColor:'rgba(0,0,0,'+a+')',pointBackgroundColor:'rgba(0,0,0,0)',showLine:false,clip:0});
chart({...colB,...row3},{xh:66,
  data:{datasets:[line(xy(salTrueTime,salTrue),'#008000',4,{borderDash:[14,6]}),line(xy(salTime,salEstimate),'#ff0000',3.2),
    cross(cloud([memberCoreA,memberCoreB]),0.3),cross(cloud([memberFringeA,memberFringeB]),0.18)]},
  scales:{x:axis(-407,8571,ticksTime,fmt0,'bottom',66,{title:offsetTitle}),y:axis(13.81,32.62,ticksSal,fmtN(1),'left',YW)}});
emptyAxis({...cbB,...row3});

// titles and colour-bar labels
[['Conditional variance',642,250],['Conditional gradient',1097,250],['Salinity in memory # = 2112',642,860.5],['Kriging salinity',1552,860.5],['Estimated directional gradient',642,1471.5],['Estimated salinity',1552,1471.5]].forEach(([t,x,y])=>{
  const d=document.createElement('div');d.className='t ttl';d.textContent=t;d.style.left=x+'px';d.style.top=y+'px';document.body.appendChild(d);});
[['Variance [psu^2]',1178,525],['Gradient [psu/m]',2129,525],['Salinity [psu]',1172,1136.5],['Salinity [psu]',2082,1136.5]].forEach(([t,x,y])=>{
  const d=document.createElement('div');d.className='t rot';d.textContent=t;d.style.left=x+'px';d.style.top=y+'px';document.body.appendChild(d);});
</script>
</body></html>
